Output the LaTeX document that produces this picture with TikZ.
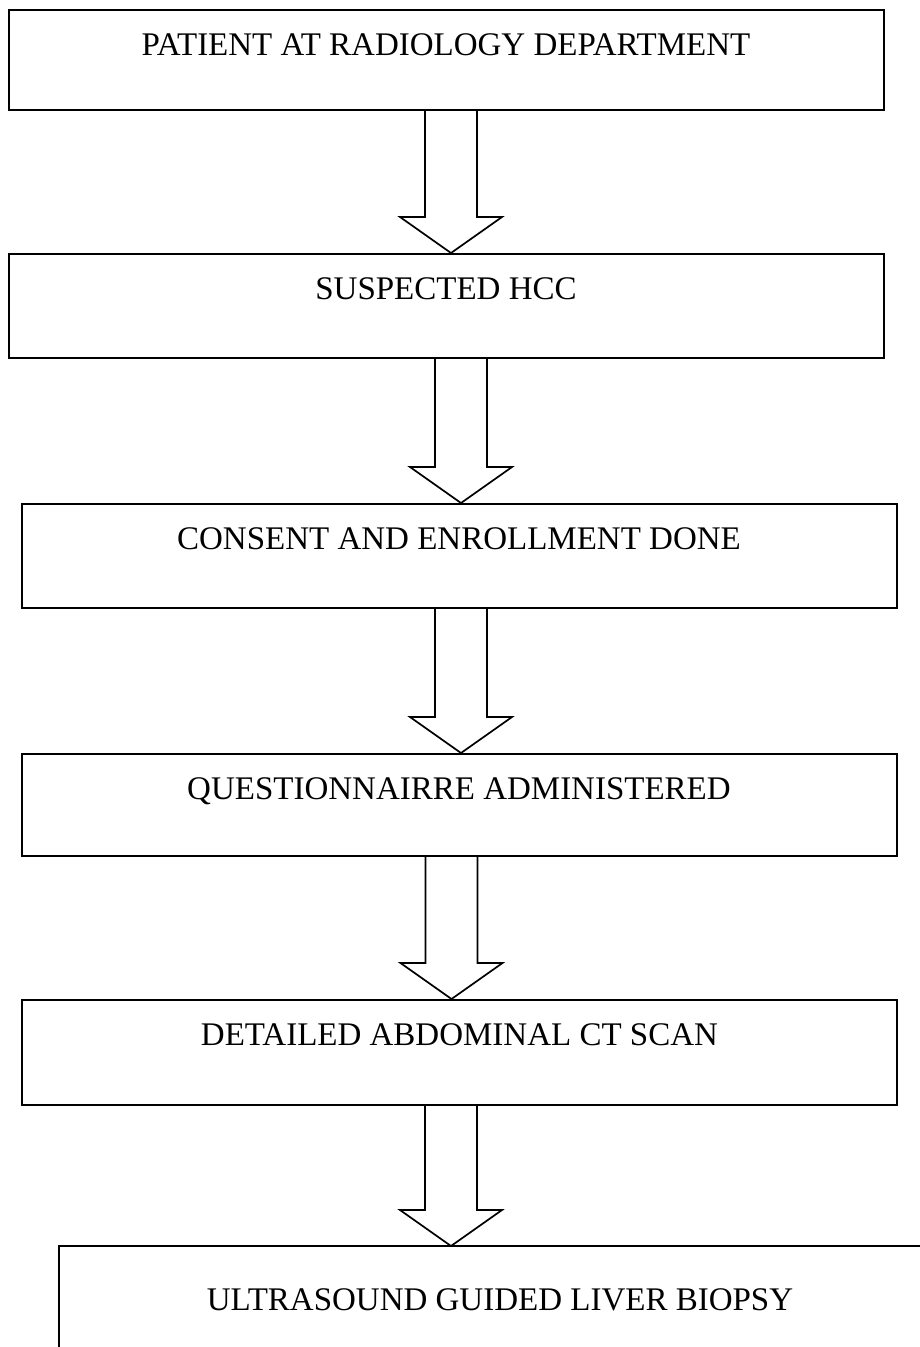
\documentclass[tikz,border=0pt]{standalone}
\usepackage{fontspec}
\setmainfont{Liberation Serif}
\usetikzlibrary{calc}
\tikzset{%
  tbox/.style      = { draw = black, line width = 2pt, inner sep = 0pt, align = center,
    minimum width = 875pt, text height = 45pt, text depth = #1, font = \fontsize{33}{38}\selectfont },
  blockarrow/.style = { draw = black, line width = 1.7pt, fill = white, line join = miter },
}
% block arrow from the bottom of #1 to the top of #2, shifted by #3
\newcommand{\flowarrow}[3]{%
  \draw[blockarrow] let \p1 = (#1.south), \p2 = ([xshift=#3]#2.north) in
    (\x2-26pt,\y1) -- (\x2-26pt,\y2+36pt) -- (\x2-51pt,\y2+36pt) -- (\x2,\y2)
    -- (\x2+51pt,\y2+36pt) -- (\x2+26pt,\y2+36pt) -- (\x2+26pt,\y1);
}

\begin{document}
\begin{tikzpicture}[x=1pt, y=-1pt]
    \useasboundingbox (0,0) rectangle (919,1347);
    % nodes ----------------------------------------------------------------------------------------
    \node(b1) [tbox=55pt] at (446,60)       {PATIENT AT RADIOLOGY DEPARTMENT};
    \node(b2) [tbox=59pt] at (446,306)      {SUSPECTED HCC};
    \node(b3) [tbox=59pt] at (459,556)      {CONSENT AND ENROLLMENT DONE};
    \node(b4) [tbox=57pt] at (459,805)      {QUESTIONNAIRRE ADMINISTERED};
    \node(b5) [tbox=60pt] at (459.5,1052.5) {DETAILED ABDOMINAL CT SCAN};
    % last box runs off the page (left and top sides only)
    \node(b6) [tbox=87pt, draw=none, text height=63pt, minimum width=880pt] at (500,1322)
      {ULTRASOUND GUIDED LIVER BIOPSY};
    \draw[line width=2pt] (b6.south west) -- (b6.north west) -- ([xshift=40pt]b6.north east);
    % arrows ---------------------------------------------------------------------------------------
    \flowarrow{b1}{b2}{5pt}
    \flowarrow{b2}{b3}{2pt}
    \flowarrow{b3}{b4}{2pt}
    \flowarrow{b4}{b5}{-8pt}
    \flowarrow{b5}{b6}{-49pt}
\end{tikzpicture}
\end{document}
